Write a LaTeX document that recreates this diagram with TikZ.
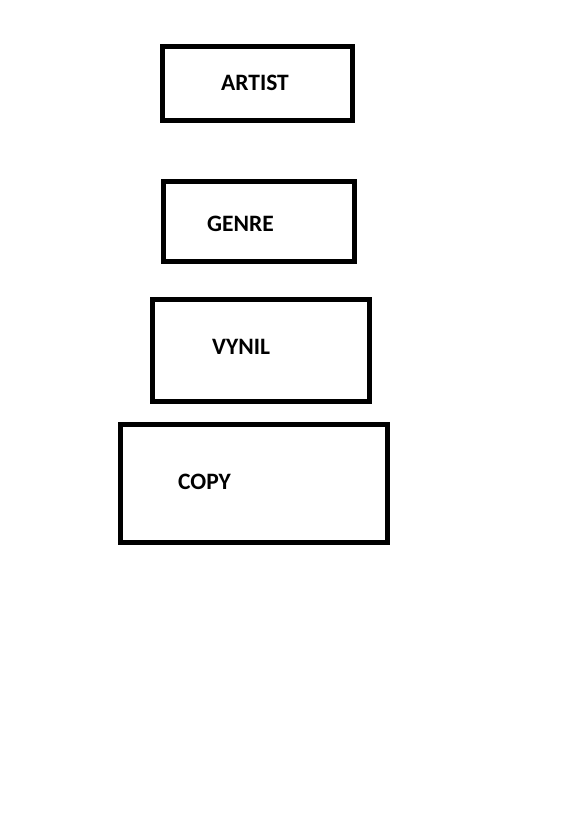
\documentclass[tikz,border=0pt]{standalone}
\usepackage{fontspec}
\setmainfont{Carlito}
\begin{document}
\begin{tikzpicture}[x=1pt,y=-1pt,
  box/.style={draw=black,line width=5pt,inner sep=0pt,rectangle},
  lbl/.style={font=\fontsize{23.5}{27}\selectfont\bfseries,inner sep=0pt,anchor=base west,text=black}]
\useasboundingbox[fill=white] (0,0) rectangle (572,831);
\node[box,minimum width=190pt,minimum height=74pt] (artist) at (257.5,83.5) {};
\node[box,minimum width=191pt,minimum height=80pt] (genre) at (259,221.5) {};
\node[box,minimum width=217pt,minimum height=102pt] (vynil) at (261,350.5) {};
\node[box,minimum width=267pt,minimum height=118pt] (copy) at (254,483.5) {};
\node[lbl] (artistlbl) at (221,90) {ARTIST};
\node[lbl] (genrelbl) at (207,231) {GENRE};
\node[lbl] (vynillbl) at (212,354) {VYNIL};
\node[lbl] (copylbl) at (178,489) {COPY};
\end{tikzpicture}
\end{document}
